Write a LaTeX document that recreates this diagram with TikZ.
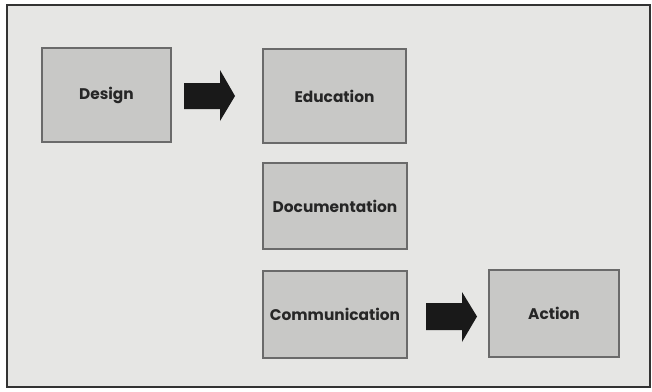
\documentclass[tikz,border=0pt]{standalone}
\usepackage{fontspec}
\setmainfont{Poppins}
\definecolor{bg}{HTML}{E6E6E4}
\definecolor{boxfill}{HTML}{C8C8C6}
\definecolor{boxline}{HTML}{6A6A6A}
\begin{document}
\begin{tikzpicture}[x=1pt,y=-1pt,
  stage/.style={draw=boxline,line width=1.2pt,fill=boxfill,minimum width=#1,inner sep=0pt,
    font=\bfseries\fontsize{15.4}{17}\selectfont,text=black!85},
  bigarrow/.style={fill=black!90,draw=none}]
\useasboundingbox (0,0) rectangle (652,391);
\fill[white] (0,0) rectangle (652,391);
\draw[fill=bg,line width=1.3pt,draw=black!80] (7,5) rectangle (650,387);
\node[stage=129pt,minimum height=94pt] (design) at (106.5,95) {Design};
\node[stage=143pt,minimum height=94pt] (edu) at (334.5,96) {Education};
\node[stage=144pt,minimum height=86pt] (doc) at (335,206) {Documentation};
\node[stage=144pt,minimum height=87pt] (comm) at (335,314.5) {Communication};
\node[stage=130pt,minimum height=87pt] (act) at (554,313.5) {Action};
\coordinate (a1) at (184,96);
\fill[bigarrow] (a1) ++(0,-13) -- ++(36,0) -- ++(0,-13) -- ++(15,26) -- ++(-15,25) -- ++(0,-12) -- ++(-36,0) -- cycle;
\coordinate (a2) at (426,316.5);
\fill[bigarrow] (a2) ++(0,-13.5) -- ++(36,0) -- ++(0,-11) -- ++(15,24.5) -- ++(-15,25.5) -- ++(0,-12) -- ++(-36,0) -- cycle;
\end{tikzpicture}
\end{document}
